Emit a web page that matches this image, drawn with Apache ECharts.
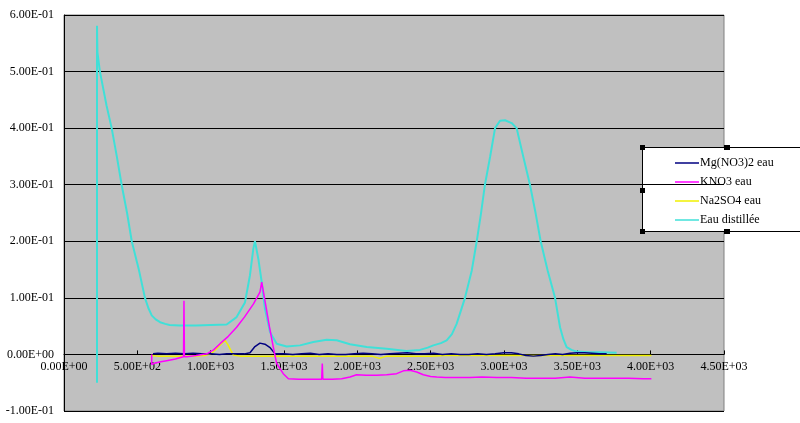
<!DOCTYPE html>
<html>
<head>
<meta charset="utf-8">
<script src="https://cdn.jsdelivr.net/npm/echarts@6/dist/echarts.min.js"></script>
<style>html,body{margin:0;padding:0;background:#fff;}#c{width:800px;height:423px;}</style>
</head>
<body>
<div id="c"></div>
<script>
// ---- tick labels ----
const xTickLabels = ['0.00E+00','5.00E+02','1.00E+03','1.50E+03','2.00E+03','2.50E+03','3.00E+03','3.50E+03','4.00E+03','4.50E+03'];
const yTickLabels = ['-1.00E-01','0.00E+00','1.00E-01','2.00E-01','3.00E-01','4.00E-01','5.00E-01','6.00E-01'];
const seriesNames = ['Mg(NO3)2 eau','KNO3 eau','Na2SO4 eau','Eau distillée'];

// ---- Eau distillée ----
const eauX = [225,225,228,245,290,325,360,393,430,462,510,552,575,598,625,655,690,720,791,900,1000,1109,1177,1234,1268,1291,1302,1325,1348,1370,1405,1450,1518,1609,1700,1791,1859,1950,2064,2200,2336,2427,2480,2518,2570,2609,2645,2677,2734,2780,2814,2843,2870,2905,2939,2973,3007,3052,3086,3132,3177,3216,3250,3298,3348,3382,3405,3427,3460,3495,3580,3655,3768];
const eauY = [-0.05,0.581,0.534,0.5,0.44,0.4,0.35,0.3,0.25,0.2,0.15,0.1,0.082,0.069,0.062,0.057,0.054,0.052,0.051,0.051,0.052,0.053,0.066,0.092,0.14,0.187,0.2,0.169,0.128,0.081,0.039,0.019,0.014,0.016,0.022,0.026,0.025,0.018,0.013,0.01,0.006,0.008,0.012,0.016,0.02,0.025,0.036,0.054,0.1,0.148,0.2,0.249,0.3,0.349,0.4,0.413,0.414,0.409,0.4,0.349,0.3,0.249,0.2,0.148,0.1,0.048,0.027,0.013,0.008,0.005,0.004,0.004,0.003];

// ---- KNO3 eau ----
const kno3X = [598,598,620,660,700,760,800,815,818,821,840,900,973,1020,1064,1120,1177,1230,1291,1336,1348,1360,1370,1400,1427,1450,1495,1530,1600,1700,1757,1761,1765,1830,1893,1950,1995,2060,2132,2200,2268,2314,2359,2405,2450,2500,2541,2600,2700,2768,2850,2950,3050,3150,3250,3350,3450,3550,3650,3750,3850,3950,4005];
const kno3Y = [0,-0.018,-0.015,-0.013,-0.011,-0.008,-0.005,-0.004,0.095,-0.004,-0.004,-0.002,0.001,0.008,0.019,0.032,0.048,0.066,0.089,0.11,0.128,0.11,0.095,0.05,0.013,-0.016,-0.034,-0.043,-0.044,-0.044,-0.044,-0.016,-0.044,-0.044,-0.043,-0.04,-0.036,-0.037,-0.037,-0.036,-0.034,-0.029,-0.028,-0.031,-0.036,-0.039,-0.04,-0.041,-0.041,-0.041,-0.04,-0.041,-0.041,-0.042,-0.042,-0.042,-0.04,-0.042,-0.042,-0.042,-0.042,-0.043,-0.043];

// ---- Na2SO4 eau ----
const na2so4X = [598,640,700,760,820,900,960,1007,1040,1070,1098,1120,1140,1155,1200,1300,1400,1500,1600,1700,1800,1900,2000,2100,2150,2160,2200,2300,2400,2500,2600,2700,2800,2900,3000,3100,3200,3300,3400,3500,3600,3700,3800,3900,4005];
const na2so4Y = [-0.002,-0.003,-0.003,-0.003,-0.003,-0.003,-0.002,0.002,0.01,0.018,0.025,0.016,0.006,-0.001,-0.003,-0.003,-0.003,-0.003,-0.003,-0.003,-0.003,-0.003,-0.003,-0.003,-0.007,-0.004,-0.003,-0.003,-0.003,-0.003,-0.002,-0.002,-0.002,-0.002,-0.002,-0.002,-0.002,-0.002,-0.002,-0.002,-0.002,-0.002,-0.002,-0.002,-0.002];

// ---- Mg(NO3)2 eau ----
const mgX = [607,640,700,760,820,880,940,1000,1060,1110,1160,1230,1268,1302,1336,1370,1405,1439,1500,1560,1620,1680,1740,1800,1860,1920,1980,2040,2100,2160,2220,2280,2340,2400,2460,2520,2580,2640,2700,2760,2820,2880,2940,3000,3050,3100,3150,3200,3250,3300,3350,3400,3450,3500,3550,3600,3650,3700];
const mgY = [0.001,0.002,0.001,0.002,0.001,0.002,0.001,0.001,0.000,0.001,0.001,0.001,0.003,0.014,0.02,0.018,0.012,0.001,0.001,0.000,0.001,0.002,0.000,0.001,0.000,0.000,0.001,0.002,0.001,0.000,0.001,0.002,0.003,0.001,0.001,0.002,0.000,0.001,0.000,0.000,0.001,0.000,0.001,0.003,0.003,0.001,-0.002,-0.003,-0.002,0.000,0.001,0.000,0.002,0.003,0.003,0.002,0.001,0.001];

function zip(xs, ys){ return xs.map((x,i)=>[x, ys[i]]); }

const font = 'Liberation Serif';
const gridTop = 15, gridBottom = 12, H = 423;
const plotH = H - gridTop - gridBottom;
// distance of the zero line above the plot's bottom edge (y range -0.1..0.6)
const zeroOffset = plotH * (0.1 / 0.7);

const chart = echarts.init(document.getElementById('c'), null, {renderer:'canvas'});
chart.setOption({
  animation: false,
  backgroundColor: '#ffffff',
  grid: {left:64, right:76, top:gridTop, bottom:gridBottom, outerBoundsMode:'none', containLabel:false,
         show:true, backgroundColor:'#c0c0c0', borderColor:'#808080', borderWidth:1},
  xAxis: {
    type:'value', min:0, max:4500, interval:500, position:'bottom', offset:-zeroOffset,
    axisLine:{show:true, onZero:false, lineStyle:{color:'#000', width:1}},
    axisTick:{show:true, inside:true, length:4, lineStyle:{color:'#000'}},
    axisLabel:{margin:6, color:'#000', fontFamily:font, fontSize:12, formatter:(v)=>xTickLabels[Math.round(v/500)]},
    splitLine:{show:false}
  },
  yAxis: {
    type:'value', min:-0.1, max:0.6, interval:0.1,
    axisLine:{show:true, onZero:false, lineStyle:{color:'#000', width:1}},
    axisTick:{show:false},
    axisLabel:{margin:10, color:'#000', fontFamily:font, fontSize:12, formatter:(v)=>yTickLabels[Math.round((v+0.1)/0.1)]},
    splitLine:{show:true, lineStyle:{color:'#000', width:1}}
  },
  legend: {
    data: seriesNames,
    orient:'vertical', left:675, top:157, padding:0, itemWidth:24, itemHeight:1.5, itemGap:7,
    icon:'path://M0,0H24V1.5H0Z',
    textStyle:{fontFamily:font, fontSize:12, color:'#000', padding:[0,0,0,-4]}
  },
  graphic: [
    {type:'rect', z:0, shape:{x:642.5, y:147.5, width:170, height:84}, style:{fill:'#fff', stroke:'#000', lineWidth:1}},
    {type:'rect', z:10, shape:{x:640, y:145, width:5, height:5}, style:{fill:'#000'}},
    {type:'rect', z:10, shape:{x:640, y:188, width:5, height:5}, style:{fill:'#000'}},
    {type:'rect', z:10, shape:{x:640, y:229, width:5, height:5}, style:{fill:'#000'}},
    {type:'rect', z:10, shape:{x:724, y:145, width:6, height:5}, style:{fill:'#000'}},
    {type:'rect', z:10, shape:{x:724, y:229, width:6, height:5}, style:{fill:'#000'}}
  ],
  series: [
    {name:seriesNames[3], type:'line', data:zip(eauX, eauY), symbol:'none', lineStyle:{color:'#40e0d8', width:2}, itemStyle:{color:'#40e0d8'}},
    {name:seriesNames[2], type:'line', data:zip(na2so4X, na2so4Y), symbol:'none', lineStyle:{color:'#f0f000', width:1.5}, itemStyle:{color:'#f0f000'}},
    {name:seriesNames[0], type:'line', data:zip(mgX, mgY), symbol:'none', lineStyle:{color:'#000080', width:1.5}, itemStyle:{color:'#000080'}},
    {name:seriesNames[1], type:'line', data:zip(kno3X, kno3Y), symbol:'none', lineStyle:{color:'#ff00ff', width:1.5}, itemStyle:{color:'#ff00ff'}}
  ]
});
</script>
</body>
</html>
